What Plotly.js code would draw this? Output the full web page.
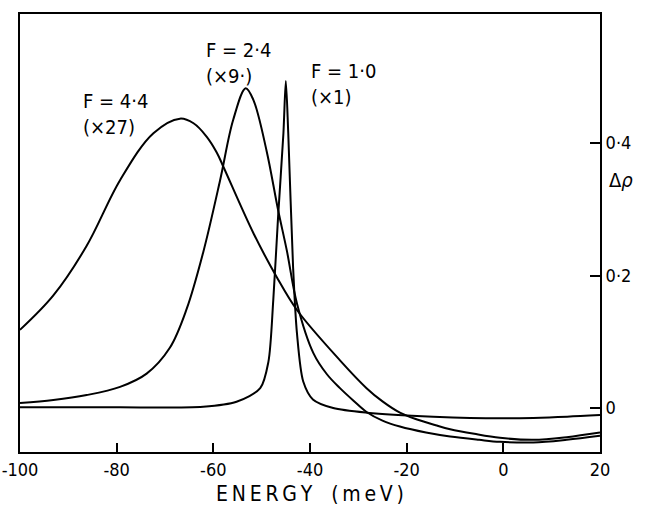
<!DOCTYPE html>
<html>
<head>
<meta charset="utf-8">
<script src="https://cdn.plot.ly/plotly-3.0.1.min.js"></script>
<style>html,body{margin:0;padding:0;background:#fff;}#chart{width:646px;height:508px;}</style>
</head>
<body>
<div id="chart"></div>
<script>
// Energy (meV) and Δρ values
var f1Energy = [-100, -80, -62.1, -55.2, -50.3, -48.6, -47.6, -46.6, -45.5, -45.0, -44.5, -43.5, -42.7, -41.4, -39.4, -35.2, -28.2, -14.5, -0.7, 13.2, 20];
var f1Drho   = [0.001, 0.001, 0.002, 0.0095, 0.030, 0.070, 0.163, 0.289, 0.415, 0.494, 0.415, 0.213, 0.113, 0.040, 0.013, 0.0, -0.007, -0.013, -0.0156, -0.013, -0.0106];

var f24Energy = [-100, -93.1, -86.2, -79.3, -73.8, -69.0, -65.5, -62.1, -58.6, -55.9, -53.3, -51.7, -49.0, -46.6, -44.8, -42.7, -39.3, -36.5, -33.8, -31.0, -28.3, -25.0, -21.4, -16.0, -11.0, -5.0, -0.7, 6.2, 13.1, 20];
var f24Drho   = [0.0075, 0.012, 0.0196, 0.032, 0.052, 0.091, 0.150, 0.235, 0.344, 0.435, 0.483, 0.465, 0.389, 0.299, 0.238, 0.158, 0.083, 0.051, 0.030, 0.011, -0.006, -0.019, -0.028, -0.037, -0.043, -0.048, -0.051, -0.052, -0.048, -0.042];

var f44Energy = [-100, -93.1, -86.2, -79.3, -72.4, -66.9, -64.1, -61.4, -59.3, -57.9, -51.7, -46.9, -42.7, -33.8, -28.3, -25.0, -21.4, -18.0, -14.0, -11.0, -6.0, -0.7, 6.2, 13.1, 20];
var f44Drho   = [0.118, 0.170, 0.245, 0.344, 0.415, 0.437, 0.430, 0.410, 0.386, 0.364, 0.264, 0.198, 0.148, 0.072, 0.030, 0.010, -0.007, -0.017, -0.026, -0.032, -0.039, -0.045, -0.048, -0.044, -0.037];

var xTickVals = [-100, -80, -60, -40, -20, 0, 20];
var xTickText = ["-100", "-80", "-60", "-40", "-20", "0", "20"];
var yTickVals = [0, 0.2, 0.4];
var yTickText = ["0", "0·2", "0·4"];

var FONT = "DejaVu Sans Condensed, Liberation Sans Narrow, sans-serif";
function curve(x, y, sm) {
  return {x: x, y: y, type: "scatter", mode: "lines",
          line: {color: "#000", width: 2, shape: "spline", smoothing: sm},
          hoverinfo: "skip", showlegend: false};
}
var data = [curve(f44Energy, f44Drho, 1), curve(f24Energy, f24Drho, 1), curve(f1Energy, f1Drho, 0.8)];

var layout = {
  width: 646, height: 508,
  margin: {l: 20, r: 46, t: 14, b: 56},
  paper_bgcolor: "#fff", plot_bgcolor: "#fff",
  font: {family: FONT, color: "#000", size: 16},
  showlegend: false,
  xaxis: {
    range: [-100, 20], showgrid: false, zeroline: false,
    showline: true, linecolor: "#000", linewidth: 2, mirror: true,
    ticks: "inside", ticklen: 9, tickwidth: 2, tickcolor: "#000",
    tickvals: xTickVals, ticktext: xTickText,
    tickfont: {family: FONT, size: 18},
    title: {text: "E\u2009N\u2009E\u2009R\u2009G\u2009Y\u2003(\u2009m\u2009e\u2009V\u2009)", font: {family: FONT, size: 21}, standoff: 8}
  },
  yaxis: {
    range: [-0.0664, 0.595], side: "right", showgrid: false, zeroline: false,
    showline: true, linecolor: "#000", linewidth: 2, mirror: true,
    ticks: "inside", ticklen: 10, tickwidth: 2, tickcolor: "#000",
    tickvals: yTickVals, ticktext: yTickText,
    tickfont: {family: FONT, size: 18}
  },
  annotations: [
    {xref: "paper", yref: "y", x: 1.012, y: 0.344, text: "Δ<i>ρ</i>", showarrow: false,
     xanchor: "left", yanchor: "middle", font: {family: FONT, size: 20}},
    {xref: "x", yref: "y", x: -87.3, y: 0.444, text: "F = 4·4<br>(×27)", showarrow: false,
     xanchor: "left", yanchor: "middle", align: "left", font: {family: FONT, size: 20}},
    {xref: "x", yref: "y", x: -62.0, y: 0.521, text: "F = 2·4<br>(×9·)", showarrow: false,
     xanchor: "left", yanchor: "middle", align: "left", font: {family: FONT, size: 20}},
    {xref: "x", yref: "y", x: -40.2, y: 0.49, text: "F = 1·0<br>(×1)", showarrow: false,
     xanchor: "left", yanchor: "middle", align: "left", font: {family: FONT, size: 20}}
  ]
};
Plotly.newPlot("chart", data, layout, {displayModeBar: false, staticPlot: true});
</script>
</body>
</html>
